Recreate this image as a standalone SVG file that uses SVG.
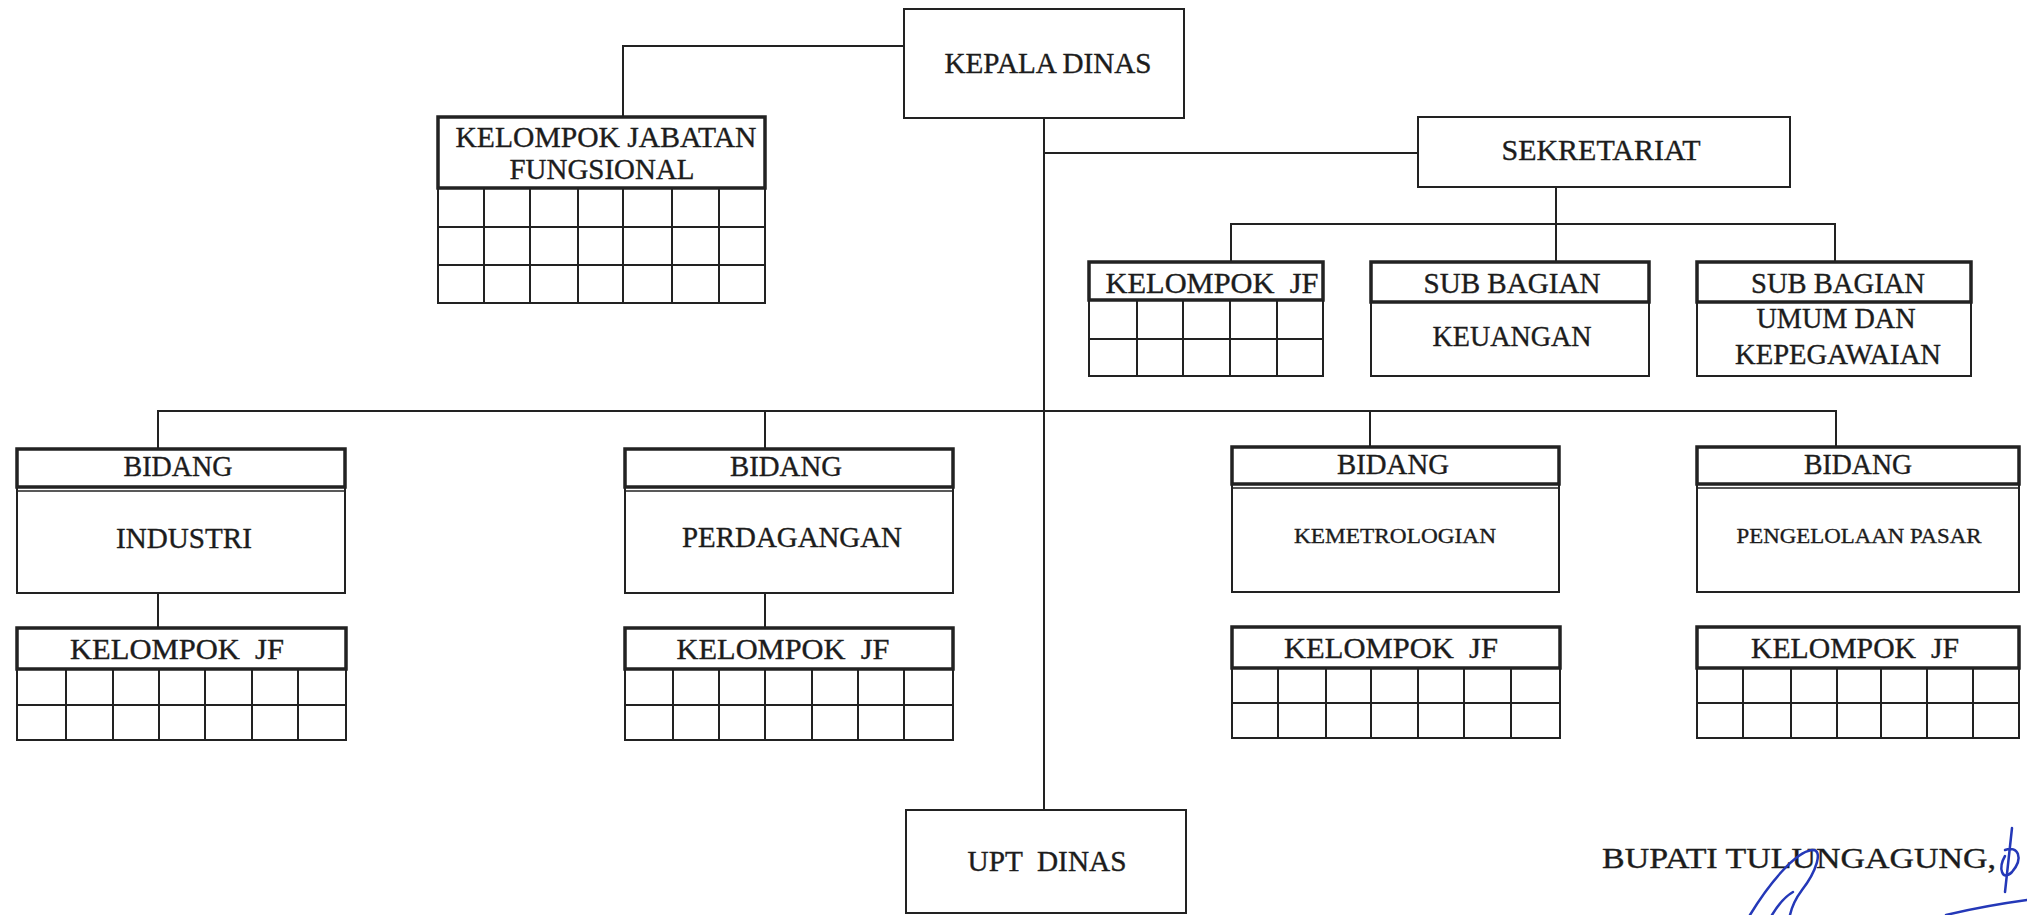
<svg xmlns="http://www.w3.org/2000/svg" width="2027" height="915" viewBox="0 0 2027 915">
<style>
.box{fill:#fff;stroke:#222;stroke-width:2}
.hdr{fill:#fff;stroke:#222;stroke-width:3.5}
.sep{stroke:#222;stroke-width:1.5;fill:none}
.grid{stroke:#222;stroke-width:2;fill:none}
.conn{stroke:#222;stroke-width:2;fill:none}
.t{font-family:"Liberation Serif","DejaVu Serif",serif;fill:#1c1c1c;stroke:#1c1c1c;stroke-width:0.35;text-anchor:middle;font-size:29px;white-space:pre}
.s{font-size:22px}
.sig{stroke:#2438b8;stroke-width:2.5;fill:none;stroke-linecap:round;stroke-linejoin:round}
</style>
<rect width="2027" height="915" fill="#fff"/>
<g id="connectors">
<path class="conn" d="M1044,118 V810"/>
<path class="conn" d="M904,46 H623 V117"/>
<path class="conn" d="M1044,153 H1418"/>
<path class="conn" d="M1556,187 V262"/>
<path class="conn" d="M1231,262 V224 H1835 V262"/>
<path class="conn" d="M158,449 V411 H1836 V447"/>
<path class="conn" d="M765,411 V449"/>
<path class="conn" d="M1370,411 V447"/>
<path class="conn" d="M158,593 V628"/>
<path class="conn" d="M765,593 V628"/>
</g>
<g id="kepala-dinas">
<rect class="box" x="904" y="9" width="280" height="109"/>
<text class="t" x="1048" y="73" font-size="30" textLength="207" lengthAdjust="spacingAndGlyphs">KEPALA DINAS</text>
</g>
<g id="kelompok-jabatan-fungsional">
<rect class="box" x="438" y="188" width="327" height="115"/>
<path class="grid" d="M438,227 H765 M438,265 H765 M484,188 V303 M530,188 V303 M578,188 V303 M623,188 V303 M672,188 V303 M719,188 V303"/>
<rect class="hdr" x="438" y="117" width="327" height="71"/>
<text class="t" x="606" y="147" font-size="28" textLength="301" lengthAdjust="spacingAndGlyphs">KELOMPOK JABATAN</text>
<text class="t" x="602" y="179" font-size="28" textLength="185" lengthAdjust="spacingAndGlyphs">FUNGSIONAL</text>
</g>
<g id="sekretariat">
<rect class="box" x="1418" y="117" width="372" height="70"/>
<text class="t" x="1601" y="160" font-size="30" textLength="199" lengthAdjust="spacingAndGlyphs">SEKRETARIAT</text>
</g>
<g id="kelompok-jf-sekretariat">
<rect class="box" x="1089" y="300" width="234" height="76"/>
<path class="grid" d="M1089,339 H1323 M1137,300 V376 M1183,300 V376 M1230,300 V376 M1277,300 V376"/>
<rect class="hdr" x="1089" y="262" width="234" height="38"/>
<text class="t" x="1212" y="293" font-size="28" textLength="213" lengthAdjust="spacingAndGlyphs" xml:space="preserve">KELOMPOK  JF</text>
</g>
<g id="sub-bagian-keuangan">
<rect class="box" x="1371" y="302" width="278" height="74"/>
<rect class="hdr" x="1371" y="262" width="278" height="40"/>
<text class="t" x="1512" y="293" font-size="28" textLength="177" lengthAdjust="spacingAndGlyphs">SUB BAGIAN</text>
<text class="t" x="1512" y="346" font-size="28" textLength="159" lengthAdjust="spacingAndGlyphs">KEUANGAN</text>
</g>
<g id="sub-bagian-umum">
<rect class="box" x="1697" y="302" width="274" height="74"/>
<rect class="hdr" x="1697" y="262" width="274" height="40"/>
<text class="t" x="1838" y="293" font-size="28" textLength="174" lengthAdjust="spacingAndGlyphs">SUB BAGIAN</text>
<text class="t" x="1836" y="328" font-size="28" textLength="159" lengthAdjust="spacingAndGlyphs">UMUM DAN</text>
<text class="t" x="1838" y="364" font-size="28" textLength="206" lengthAdjust="spacingAndGlyphs">KEPEGAWAIAN</text>
</g>
<g id="bidang-industri">
<rect class="box" x="17" y="487" width="328" height="106"/>
<rect class="hdr" x="17" y="449" width="328" height="38"/>
<path class="sep" d="M17,491 H345"/>
<text class="t" x="178" y="476" textLength="109" lengthAdjust="spacingAndGlyphs">BIDANG</text>
<text class="t" x="184" y="548" textLength="136" lengthAdjust="spacingAndGlyphs">INDUSTRI</text>
</g>
<g id="kelompok-jf-industri">
<rect class="box" x="17" y="669" width="329" height="71"/>
<path class="grid" d="M17,705 H346 M66,669 V740 M113,669 V740 M159,669 V740 M205,669 V740 M252,669 V740 M298,669 V740"/>
<rect class="hdr" x="17" y="628" width="329" height="41"/>
<text class="t" x="177" y="659" font-size="28" textLength="214" lengthAdjust="spacingAndGlyphs" xml:space="preserve">KELOMPOK  JF</text>
</g>
<g id="bidang-perdagangan">
<rect class="box" x="625" y="487" width="328" height="106"/>
<rect class="hdr" x="625" y="449" width="328" height="38"/>
<path class="sep" d="M625,491 H953"/>
<text class="t" x="786" y="476" textLength="112" lengthAdjust="spacingAndGlyphs">BIDANG</text>
<text class="t" x="792" y="547" textLength="220" lengthAdjust="spacingAndGlyphs">PERDAGANGAN</text>
</g>
<g id="kelompok-jf-perdagangan">
<rect class="box" x="625" y="669" width="328" height="71"/>
<path class="grid" d="M625,705 H953 M673,669 V740 M719,669 V740 M765,669 V740 M812,669 V740 M858,669 V740 M904,669 V740"/>
<rect class="hdr" x="625" y="628" width="328" height="41"/>
<text class="t" x="783" y="659" font-size="28" textLength="213" lengthAdjust="spacingAndGlyphs" xml:space="preserve">KELOMPOK  JF</text>
</g>
<g id="bidang-kemetrologian">
<rect class="box" x="1232" y="484" width="327" height="108"/>
<rect class="hdr" x="1232" y="447" width="327" height="37"/>
<path class="sep" d="M1232,488 H1559"/>
<text class="t" x="1393" y="474" textLength="112" lengthAdjust="spacingAndGlyphs">BIDANG</text>
<text class="t s" x="1395" y="543" textLength="202" lengthAdjust="spacingAndGlyphs">KEMETROLOGIAN</text>
</g>
<g id="kelompok-jf-kemetrologian">
<rect class="box" x="1232" y="668" width="328" height="70"/>
<path class="grid" d="M1232,703 H1560 M1278,668 V738 M1326,668 V738 M1371,668 V738 M1418,668 V738 M1464,668 V738 M1511,668 V738"/>
<rect class="hdr" x="1232" y="627" width="328" height="41"/>
<text class="t" x="1391" y="658" font-size="28" textLength="214" lengthAdjust="spacingAndGlyphs" xml:space="preserve">KELOMPOK  JF</text>
</g>
<g id="bidang-pengelolaan-pasar">
<rect class="box" x="1697" y="484" width="322" height="108"/>
<rect class="hdr" x="1697" y="447" width="322" height="37"/>
<path class="sep" d="M1697,488 H2019"/>
<text class="t" x="1858" y="474" textLength="108" lengthAdjust="spacingAndGlyphs">BIDANG</text>
<text class="t s" x="1859" y="543" textLength="245" lengthAdjust="spacingAndGlyphs">PENGELOLAAN PASAR</text>
</g>
<g id="kelompok-jf-pengelolaan-pasar">
<rect class="box" x="1697" y="668" width="322" height="70"/>
<path class="grid" d="M1697,703 H2019 M1743,668 V738 M1791,668 V738 M1837,668 V738 M1881,668 V738 M1927,668 V738 M1973,668 V738"/>
<rect class="hdr" x="1697" y="627" width="322" height="41"/>
<text class="t" x="1855" y="658" font-size="28" textLength="208" lengthAdjust="spacingAndGlyphs" xml:space="preserve">KELOMPOK  JF</text>
</g>
<g id="upt-dinas">
<rect class="box" x="906" y="810" width="280" height="103"/>
<text class="t" x="1047" y="871" font-size="28" textLength="159" lengthAdjust="spacingAndGlyphs" xml:space="preserve">UPT  DINAS</text>
</g>
<g id="bupati">
<text class="t" x="1602" y="868" font-size="31" style="text-anchor:start" textLength="394" lengthAdjust="spacingAndGlyphs">BUPATI TULUNGAGUNG,</text>
<path class="sig" d="M1750,915 C1768,885 1795,852 1812,850 C1824,849 1816,872 1802,890 C1796,898 1792,906 1790,915"/>
<path class="sig" d="M1772,915 C1778,905 1786,896 1793,892"/>
<path class="sig" d="M2012,828 L2005,892 M2005,850 C2018,845 2024,858 2012,872 C2002,882 1998,868 2005,856"/>
<path class="sig" d="M1946,915 C1975,908 2005,903 2027,900"/>
</g>
</svg>
